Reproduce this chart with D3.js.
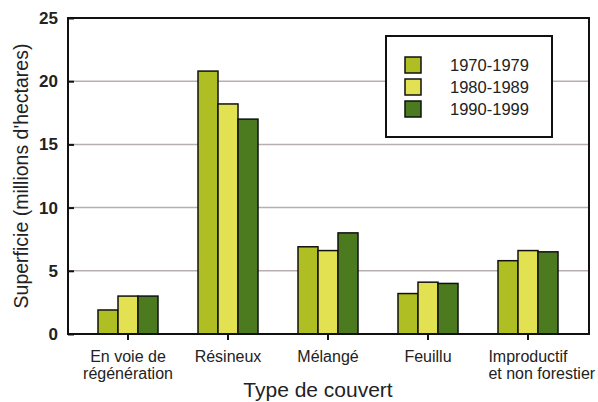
<!DOCTYPE html>
<html><head><meta charset="utf-8">
<script src="https://cdn.jsdelivr.net/npm/d3@7"></script>
<style>body{margin:0;background:#fff;} text{font-family:"Liberation Sans",Arial,sans-serif;fill:#222;}</style>
</head><body>
<svg id="c" width="598" height="402"></svg>
<script>
const categories = [["En voie de","régénération"],["Résineux"],["Mélangé"],["Feuillu"],["Improductif","et non forestier"]];
const series = ["1970-1979","1980-1989","1990-1999"];
const v1970 = [1.9, 20.8, 6.9, 3.2, 5.8];
const v1980 = [3.0, 18.2, 6.6, 4.1, 6.6];
const v1990 = [3.0, 17.0, 8.0, 4.0, 6.5];
const yTicks = [0,5,10,15,20,25];
const colors = ["#afbe22","#e1e152","#4c7a1f"];

const values = [v1970, v1980, v1990];
const svg = d3.select("#c");
const L=68, R=589, T=18, B=334;
const x = d3.scaleBand().domain(d3.range(categories.length)).range([78,578]).paddingInner(0.4).paddingOuter(0.2);
const xs = d3.scaleBand().domain(d3.range(series.length)).range([0, x.bandwidth()]);
const y = d3.scaleLinear().domain([0,25]).range([B,T]);

// grid
svg.append("g").selectAll("line").data(yTicks.filter(d=>d>0&&d<25)).join("line")
  .attr("x1",L).attr("x2",R).attr("y1",d=>y(d)).attr("y2",d=>y(d))
  .attr("stroke","#b9aeae").attr("stroke-width",1.5);

// bars
const g = svg.append("g");
categories.forEach((c,i)=>{
  values.forEach((vals,s)=>{
    g.append("rect").attr("x",x(i)+xs(s)).attr("width",xs.bandwidth())
      .attr("y",y(vals[i])).attr("height",y(0)-y(vals[i]))
      .attr("fill",colors[s]).attr("stroke","#111").attr("stroke-width",1.5);
  });
});

// frame
svg.append("rect").attr("x",L).attr("y",T).attr("width",R-L).attr("height",B-T)
  .attr("fill","none").attr("stroke","#111").attr("stroke-width",2);

// y axis
const ya = svg.append("g").attr("transform",`translate(${L},0)`)
  .call(d3.axisLeft(y).tickValues(yTicks).tickSize(-6).tickPadding(10));
ya.select(".domain").remove();
ya.selectAll("line").attr("stroke","#111").attr("stroke-width",2);
ya.selectAll("text").style("font-size","17px").style("font-weight","bold").attr("fill","#222");

// x axis ticks
const xa = svg.append("g").attr("transform",`translate(0,${B})`)
  .call(d3.axisBottom(x).tickSize(6).tickFormat(""));
xa.select(".domain").remove();
xa.selectAll("line").attr("stroke","#111").attr("stroke-width",2);

// category labels
categories.forEach((c,i)=>{
  const cx = x(i)+x.bandwidth()/2;
  const t = svg.append("text").attr("y",362).style("font-size","16px").attr("text-anchor","middle");
  c.forEach((ln,k)=>t.append("tspan").attr("x",cx).attr("dy",k?17:0).text(ln));
  if(i===categories.length-1){
    const w = t.select("tspan").node().getComputedTextLength();
    t.attr("text-anchor","start");
    t.selectAll("tspan").attr("x",cx-w/2);
  }
});

// axis titles
svg.append("text").attr("x",318).attr("y",397).attr("text-anchor","middle")
  .style("font-size","21px").text("Type de couvert");
svg.append("text").attr("transform","translate(28,176) rotate(-90)").attr("text-anchor","middle")
  .style("font-size","19.5px").text("Superficie (millions d'hectares)");

// legend
const lg = svg.append("g");
lg.append("rect").attr("x",386).attr("y",36).attr("width",166).attr("height",101)
  .attr("fill","#fff").attr("stroke","#111").attr("stroke-width",2);
series.forEach((s,k)=>{
  lg.append("rect").attr("x",405).attr("y",57+k*22).attr("width",16).attr("height",16)
    .attr("fill",colors[k]).attr("stroke","#111").attr("stroke-width",1.5);
  lg.append("text").attr("x",450).attr("y",71+k*22).style("font-size","16.5px").text(s);
});
</script>
</body></html>
